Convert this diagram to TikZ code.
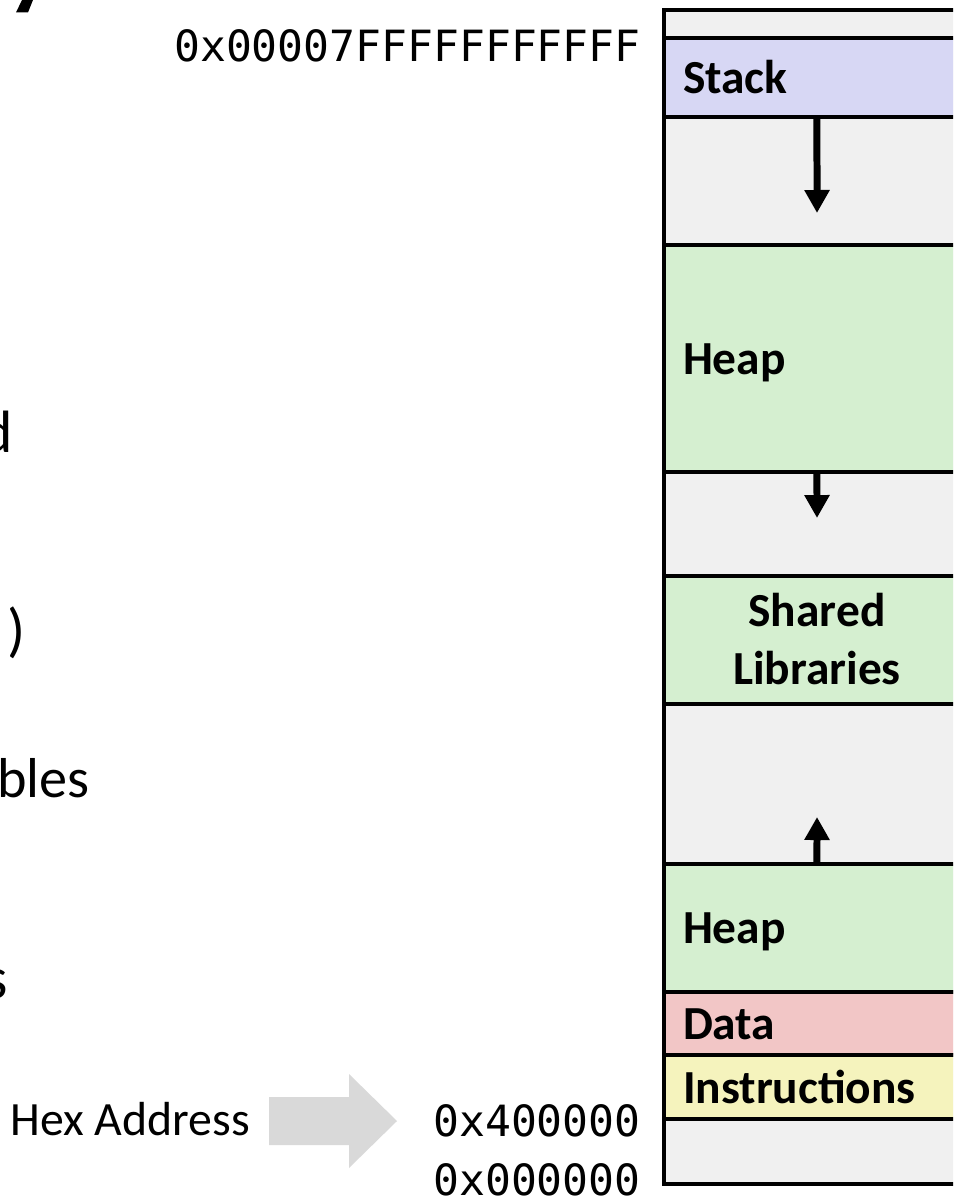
\documentclass[tikz,border=0pt]{standalone}
\usepackage{fontspec}
\usetikzlibrary{positioning, arrows.meta}
\newfontfamily\carlito{Carlito}
\newfontfamily\dejamono{DejaVu Sans Mono}
\definecolor{MemGray}{RGB}{240,240,240}
\definecolor{StackPurple}{RGB}{215,215,244}
\definecolor{HeapGreen}{RGB}{213,239,208}
\definecolor{DataPink}{RGB}{242,198,198}
\definecolor{CodeYellow}{RGB}{245,243,189}
\definecolor{ArrowGray}{RGB}{217,217,217}

\begin{document}
\begin{tikzpicture}[x=0.02cm, y=-0.02cm,
    seg/.style={draw, line width=2.3pt, rectangle, anchor=north west, outer sep=0pt,
      minimum width=6.12cm, inner xsep=0.38cm, inner ysep=0pt, text width=5.36cm,
      align=left, text height=0.64cm, text depth=0pt,
      font=\carlito\bfseries\fontsize{27}{33}\selectfont},
    growarrow/.style={line width=0.14cm, -{Triangle[width=0.48cm, length=0.46cm]}},
    addr/.style={anchor=base east, inner sep=0pt, font=\dejamono\fontsize{24.5}{28}\selectfont},
    frag/.style={inner sep=0pt, font=\carlito\fontsize{34}{40}\selectfont}]
    \path[use as bounding box, clip] (0,0) rectangle (953,1202);

    % cut-off slide text on the left
    \fill (16,12.5) -- (28,12.5) -- (33,0) -- (22,0) -- cycle;
    \node[frag, anchor=base east] (fragd) at (13,452) {d};
    \node[frag, anchor=base east] (fragparen) at (26,650) {)};
    \node[frag, anchor=base west, font=\carlito\fontsize{32}{38}\selectfont] (fragbles) at (-3,797) {bles};
    \node[frag, anchor=base east] (frags) at (8,998) {s};

    % memory column
    \draw[fill=MemGray, line width=2.3pt] (664,10) rectangle (975,1184);
    \node[seg, fill=StackPurple, minimum height=1.58cm] (stack) at (664,38) {Stack};
    \node[seg, fill=HeapGreen, minimum height=4.54cm] (heap) at (664,245) {Heap};
    \node[seg, fill=HeapGreen, minimum height=2.56cm, align=center, text depth=1.16cm] (shlib) at (664,576) {Shared\\Libraries};
    \node[seg, fill=HeapGreen, minimum height=2.56cm] (heaplow) at (664,864) {Heap};
    \node[seg, fill=DataPink, minimum height=1.26cm] (data) at (664,992) {Data};
    \node[seg, fill=CodeYellow, minimum height=1.28cm] (code) at (664,1055) {Instructions};

    % growth arrows
    \coordinate (stacktip) at (817,213);
    \coordinate (heaptip) at (817,518);
    \coordinate (lowtip) at (817,817);
    \draw[growarrow] (stack.south) -- (stacktip);
    \draw[growarrow] (heap.south) -- (heaptip);
    \draw[growarrow] (heaplow.north) -- (lowtip);

    % addresses
    \node[addr] (addrtop) at (641,62) {0x00007FFFFFFFFFFF};
    \node[addr] (addrcode) at (641,1136) {0x400000};
    \node[addr] (addrzero) at (641,1195) {0x000000};

    \node[anchor=base west, inner sep=0pt, font=\carlito\fontsize{27.2}{32}\selectfont] (hexlbl) at (10,1135) {Hex Address};
    \fill[ArrowGray] (269,1097) -- (349,1097) -- (349,1074) -- (397,1121) -- (349,1168) -- (349,1145) -- (269,1145) -- cycle;
\end{tikzpicture}
\end{document}
